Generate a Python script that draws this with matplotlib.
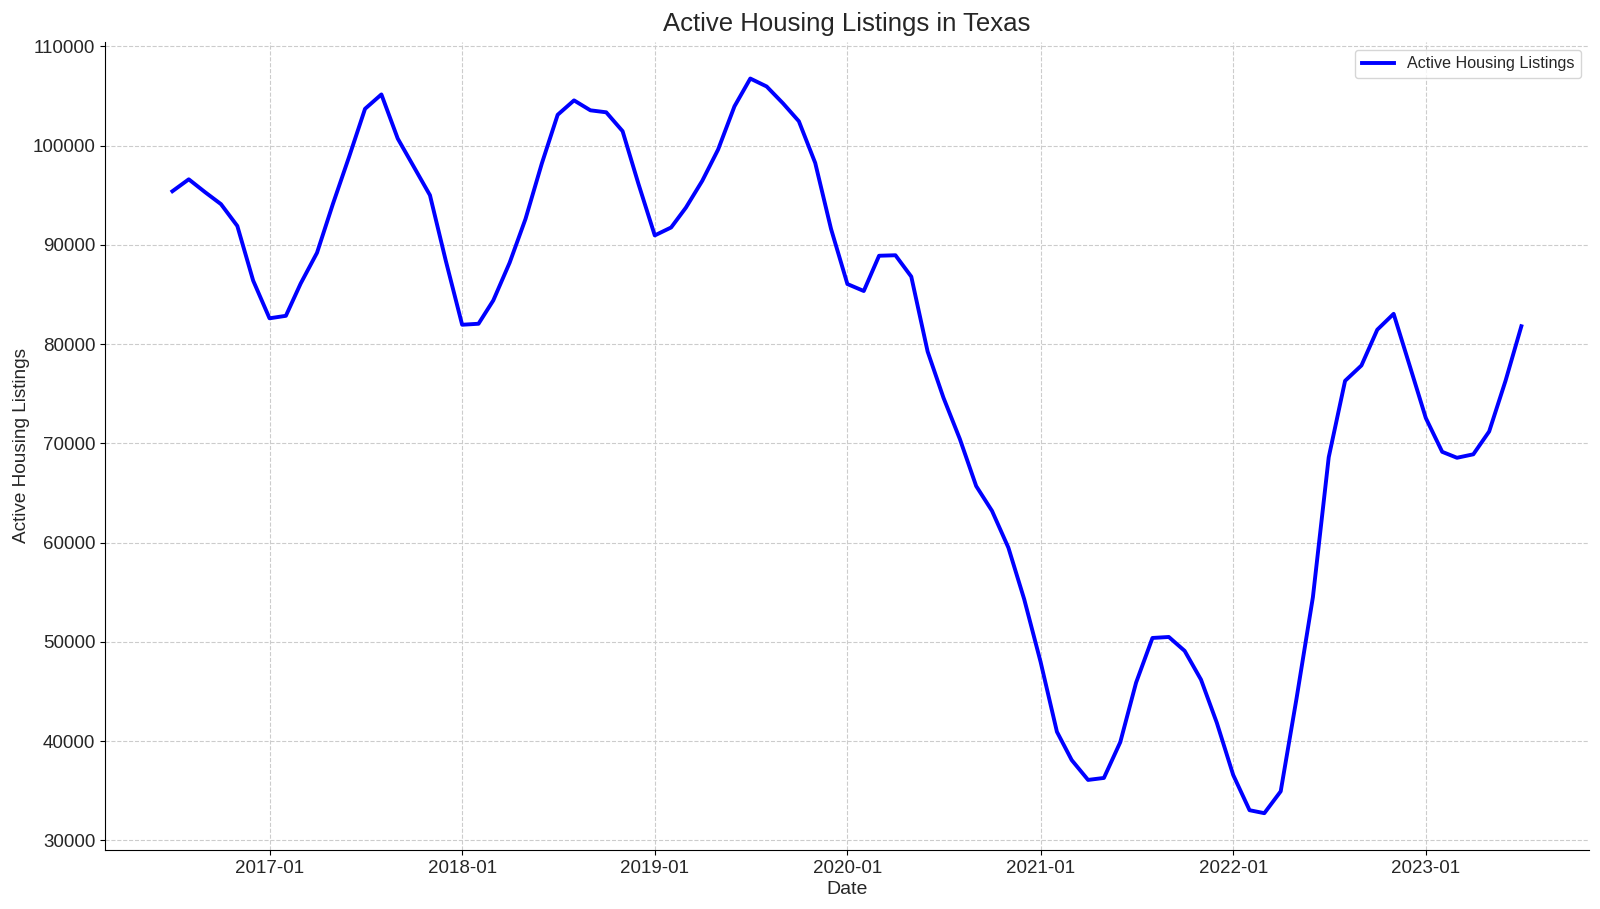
import matplotlib
matplotlib.use("Agg")
import matplotlib.pyplot as plt
import matplotlib.dates as mdates
import pandas as pd

plt.rcParams['font.family'] = ['Liberation Sans', 'DejaVu Sans']

# monthly active listings, Jul 2016 .. Jul 2023
dates = pd.date_range("2016-07-01", "2023-07-01", freq="MS")
listings = [
    95400, 96600, 95300, 94100, 91900, 86400,                      # 2016
    82600, 82850, 86100, 89200, 94100, 98900,
    103700, 105150, 100700, 97900, 95000, 88400,                   # 2017
    81950, 82050, 84400, 88200, 92600, 98200,
    103100, 104550, 103550, 103350, 101450, 96150,                 # 2018
    90950, 91750, 93750, 96450, 99600, 103950,
    106750, 105950, 104250, 102450, 98250, 91600,                  # 2019
    86050, 85350, 88900, 88950, 86800, 79250,
    74600, 70450, 65700, 63200, 59500, 54300,                      # 2020
    48000, 40950, 38100, 36100, 36300, 39900,
    45900, 50400, 50500, 49100, 46200, 41850,                      # 2021
    36600, 33050, 32750, 34950, 44300, 54500,
    68600, 76300, 77850, 81450, 83050, 77900,                      # 2022
    72550, 69150, 68550, 68900, 71200, 76300,
    81800,                                                         # 2023
]

txt = "#262626"

fig = plt.figure(figsize=(16, 9.09), dpi=100)
ax = fig.add_axes([0.0656, 0.065, 0.9274, 0.889])

ax.plot(dates, listings, color="blue", linewidth=2.8, label="Active Housing Listings")

ax.set_title("Active Housing Listings in Texas", fontsize=18.5, color=txt, pad=8)
ax.set_xlabel("Date", fontsize=14, color=txt, labelpad=3)
ax.set_ylabel("Active Housing Listings", fontsize=13.7, color=txt, labelpad=2)

ax.xaxis.set_major_locator(mdates.YearLocator())
ax.xaxis.set_major_formatter(mdates.DateFormatter("%Y-%m"))
ax.set_yticks(range(30000, 110001, 10000))
ax.tick_params(labelsize=13.5, labelcolor=txt)

ax.grid(True, linestyle="--", color="#cccccc", linewidth=0.8)
ax.spines["top"].set_visible(False)
ax.spines["right"].set_visible(False)

ax.legend(loc="upper right", fontsize=11.6, labelcolor=txt)

plt.savefig("out.png", dpi=100)
